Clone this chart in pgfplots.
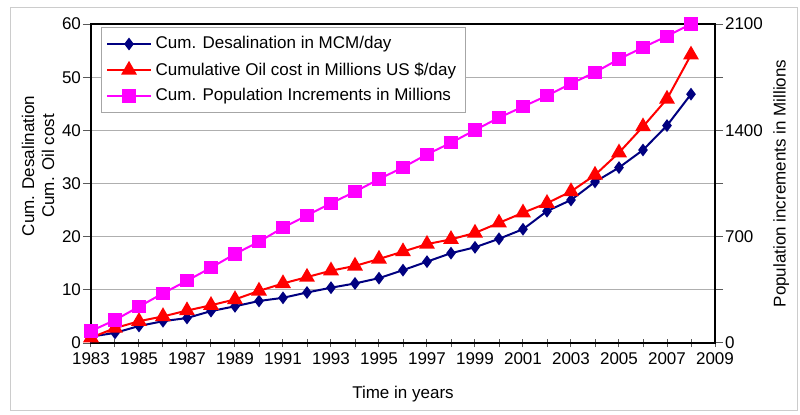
\documentclass[border=0pt]{standalone}
\usepackage{pgfplots}
\pgfplotsset{compat=1.18}
\usepackage{fontspec}
\setmainfont{Liberation Sans}
\definecolor{navy}{RGB}{0,0,128}
\definecolor{mag}{RGB}{255,0,255}
\definecolor{gridgray}{RGB}{175,175,175}
\pgfplotstableread{
year desal oil pop
1983 1.2 1.0 79
1984 1.9 2.8 151
1985 3.2 4.1 239
1986 4.1 5.0 327
1987 4.7 6.1 410
1988 6.0 7.1 496
1989 6.9 8.2 586
1990 7.9 9.8 667
1991 8.5 11.2 759
1992 9.5 12.4 840
1993 10.4 13.6 920
1994 11.2 14.5 996
1995 12.2 15.8 1079
1996 13.7 17.2 1156
1997 15.3 18.6 1242
1998 16.9 19.5 1318
1999 18.0 20.7 1402
2000 19.6 22.6 1483
2001 21.4 24.5 1556
2002 24.8 26.3 1628
2003 26.9 28.5 1707
2004 30.3 31.6 1782
2005 33.0 35.8 1869
2006 36.3 40.7 1946
2007 40.9 45.9 2020
2008 46.8 54.2 2100
}\datatable
\begin{document}
\fontsize{8.5}{10}\selectfont
\begin{tikzpicture}
\useasboundingbox (0,0) rectangle (400pt,207pt);
\draw[gray!40] (5pt,2pt) rectangle (398.5pt,203.5pt);
\pgfplotsset{
  common/.style={
    at={(45.5pt,35.5pt)}, anchor=south west,
    scale only axis, width=312pt, height=159.5pt,
    xmin=1983, xmax=2009,
    /pgf/number format/assume math mode=true,
    /pgf/number format/1000 sep={},
    ticklabel style={font=\fontsize{8.5}{10}\selectfont},
    label style={font=\fontsize{8.5}{10}\selectfont},
    tick align=center,
    major tick length=4pt, minor tick length=4pt,
    every tick/.style={gray!70!black, line width=0.5pt},
    axis line style={black, line width=1pt},
    clip=false,
  }
}
\begin{axis}[common,
  ymin=0, ymax=60, ytick={0,10,...,60},
  xtick={1983,1985,...,2009}, minor xtick={1984,1986,...,2008},
  xtick pos=bottom, ytick pos=left,
  y tick style={xshift=-2pt},
  ymajorgrids, major grid style={gridgray, line width=0.6pt},
  ylabel={Cum. Desalination\\Cum. Oil cost},
  ylabel style={align=center, at={(axis description cs:-0.085,0.555)}, anchor=center},
  xlabel={Time in years},
  xlabel style={at={(axis description cs:0.5,-0.16)}, anchor=center},
]
\addplot[navy, line width=1pt, mark=diamond*, mark size=2.4pt, mark options={fill=navy}] table[x=year, y=desal] {\datatable};
\addplot[red, line width=1pt, mark=triangle*, mark size=3.6pt, mark options={fill=red}] table[x=year, y=oil] {\datatable};
\end{axis}
\begin{axis}[common,
  axis x line=none, axis y line*=right,
  ymin=0, ymax=2100, ytick={0,350,...,2100},
  yticklabels={0,,700,,1400,,2100},
  y tick style={xshift=2pt},
  ylabel={Population increments in Millions},
  ylabel style={at={(axis description cs:1.106,0.5)}, anchor=center, rotate=0},
  legend style={at={(axis description cs:0.016,0.99)}, anchor=north west,
    draw=gray!70, fill=white, font=\fontsize{8.5}{10}\selectfont,
    row sep=1.5pt, inner sep=2.5pt, cells={anchor=west}},
  legend image code/.code={\draw[mark repeat=2, mark phase=2, #1] plot coordinates {(0cm,0cm) (0.38cm,0cm) (0.76cm,0cm)};},
]
\addlegendimage{navy, line width=1pt, mark=diamond*, mark size=2.4pt, mark options={fill=navy}}
\addlegendentry{Cum. Desalination in MCM/day}
\addlegendimage{red, line width=1pt, mark=triangle*, mark size=3.6pt, mark options={fill=red}}
\addlegendentry{Cumulative Oil cost in Millions US \$/day}
\addplot[mag, line width=1pt, mark=square*, mark size=2.8pt, mark options={fill=mag}] table[x=year, y=pop] {\datatable};
\addlegendentry{Cum. Population Increments in Millions}
\end{axis}
\end{tikzpicture}
\end{document}
